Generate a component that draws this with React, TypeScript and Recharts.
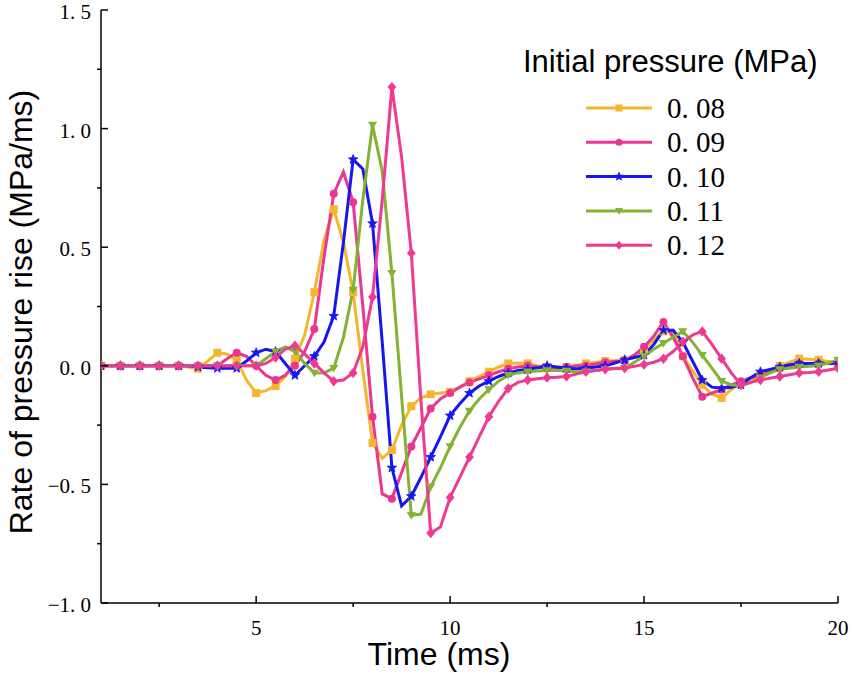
import React from 'react';
import { LineChart, Line, XAxis, YAxis, Legend, Label } from 'recharts';

const times = [
  1, 1.25, 1.5, 1.75, 2, 2.25, 2.5, 2.75, 3, 3.25, 3.5, 3.75, 4, 4.25, 4.5, 4.75,
  5, 5.25, 5.5, 5.75, 6, 6.25, 6.5, 6.75, 7, 7.25, 7.5, 7.75, 8, 8.25, 8.5, 8.75,
  9, 9.25, 9.5, 9.75, 10, 10.25, 10.5, 10.75, 11, 11.25, 11.5, 11.75, 12, 12.25, 12.5, 12.75,
  13, 13.25, 13.5, 13.75, 14, 14.25, 14.5, 14.75, 15, 15.25, 15.5, 15.75, 16, 16.25, 16.5, 16.75,
  17, 17.25, 17.5, 17.75, 18, 18.25, 18.5, 18.75, 19, 19.25, 19.5, 19.75, 20,
];

const p08 = [
  0, 0, 0, 0,
  0, 0, 0, 0,
  0, -0.005, -0.012, 0.02,
  0.055, 0.05, 0.025, -0.06,
  -0.115, -0.105, -0.085, -0.045,
  0.03, 0.13, 0.31, 0.53,
  0.66, 0.52, 0.31, -0.02,
  -0.325, -0.39, -0.355, -0.25,
  -0.17, -0.135, -0.12, -0.115,
  -0.11, -0.09, -0.065, -0.045,
  -0.025, -0.005, 0.01, 0.012,
  0.01, 0.0, -0.005, -0.005,
  -0.005, 0.0, 0.01, 0.015,
  0.02, 0.022, 0.025, 0.045,
  0.07, 0.11, 0.145, 0.145,
  0.04, -0.02, -0.08, -0.12,
  -0.135, -0.1, -0.07, -0.055,
  -0.04, -0.02, 0.0, 0.015,
  0.03, 0.028, 0.025, 0.018,
  0.01,
];

const p09 = [
  0, 0, 0, 0,
  0, 0, 0, 0,
  0, 0, 0, 0,
  0, 0.03, 0.055, 0.04,
  0, -0.04, -0.06, -0.04,
  0, 0.06, 0.155, 0.46,
  0.725, 0.817, 0.69, 0.25,
  -0.215, -0.54, -0.56, -0.45,
  -0.34, -0.26, -0.18, -0.14,
  -0.115, -0.09, -0.07, -0.055,
  -0.04, -0.025, -0.012, -0.005,
  0, -0.005, -0.01, -0.01,
  -0.005, 0, 0, 0.008,
  0.015, 0.018, 0.02, 0.045,
  0.08, 0.125, 0.185, 0.12,
  0.04, -0.05, -0.13, -0.115,
  -0.1, -0.08, -0.065, -0.05,
  -0.04, -0.025, -0.01, 0,
  0.01, 0.01, 0.01, 0.01,
  0.01,
];

const p10 = [
  0, 0, 0, 0,
  0, 0, 0, 0,
  0, 0, -0.005, -0.008,
  -0.01, -0.01, -0.01, 0.02,
  0.055, 0.07, 0.06, 0.01,
  -0.04, 0.0, 0.04, 0.1,
  0.21, 0.52, 0.87, 0.83,
  0.6, 0.1, -0.43, -0.59,
  -0.55, -0.47, -0.385, -0.3,
  -0.21, -0.16, -0.115, -0.085,
  -0.065, -0.045, -0.03, -0.02,
  -0.015, -0.008, 0, -0.005,
  -0.01, -0.012, -0.01, -0.005,
  0, 0.012, 0.025, 0.035,
  0.045, 0.09, 0.15, 0.15,
  0.1, 0.02, -0.06, -0.09,
  -0.095, -0.09, -0.08, -0.05,
  -0.025, -0.015, -0.005, 0.005,
  0.01, 0.01, 0.01, 0.01,
  0.01,
];

const p11 = [
  0, 0, 0, 0,
  0, 0, 0, 0,
  0, 0, 0, 0,
  0, 0, 0, 0,
  0, 0.03, 0.06, 0.08,
  0.06, 0.01, -0.03, -0.03,
  -0.01, 0.12, 0.32, 0.7,
  1.015, 0.82, 0.39, -0.13,
  -0.63, -0.625, -0.51, -0.43,
  -0.34, -0.26, -0.19, -0.14,
  -0.1, -0.065, -0.04, -0.03,
  -0.025, -0.022, -0.02, -0.02,
  -0.022, -0.025, -0.025, -0.02,
  -0.015, -0.012, -0.01, 0.015,
  0.04, 0.07, 0.095, 0.12,
  0.145, 0.1, 0.045, -0.01,
  -0.065, -0.08, -0.085, -0.07,
  -0.05, -0.03, -0.015, -0.01,
  -0.005, -0.002, 0, 0.012,
  0.025,
];

const p12 = [
  0, 0, 0, 0,
  0, 0, 0, 0,
  0, 0, 0, 0,
  0, 0, 0, 0,
  0, 0.01, 0.035, 0.07,
  0.085, 0.05, 0.01, -0.03,
  -0.065, -0.06, -0.03, 0.08,
  0.29, 0.7, 1.175, 0.88,
  0.475, -0.15, -0.705, -0.68,
  -0.555, -0.47, -0.385, -0.3,
  -0.215, -0.15, -0.095, -0.07,
  -0.06, -0.055, -0.05, -0.048,
  -0.045, -0.035, -0.025, -0.02,
  -0.015, -0.01, -0.01, -0.002,
  0.005, 0.015, 0.03, 0.06,
  0.1, 0.13, 0.145, 0.09,
  0.03, -0.03, -0.08, -0.07,
  -0.06, -0.052, -0.045, -0.038,
  -0.03, -0.028, -0.025, -0.018,
  -0.01,
];

const seriesNames = ['0. 08', '0. 09', '0. 10', '0. 11', '0. 12'];
const seriesKeys = ['p08', 'p09', 'p10', 'p11', 'p12'];
const seriesColors = ['#F3B62C', '#EC3590', '#1616F0', '#83B234', '#EE3A91'];
const seriesShapes = ['square', 'circle', 'star', 'tri', 'diamond'];
const xTicks = [2.5, 5, 7.5, 10, 12.5, 15, 17.5, 20];
const yTicks = [-1, -0.75, -0.5, -0.25, 0, 0.25, 0.5, 0.75, 1, 1.25, 1.5];
const legendTitle = 'Initial pressure (MPa)';
const xTitle = 'Time (ms)';
const yTitle = 'Rate of pressure rise (MPa/ms)';

const seriesValues = [p08, p09, p10, p11, p12];
const data = times.map((t, i) => {
  const row: any = { t };
  seriesKeys.forEach((k, j) => {
    row[k] = seriesValues[j][i];
  });
  return row;
});

const SERIF = '"Liberation Serif", "Times New Roman", "DejaVu Serif", serif';
const SANS = '"Liberation Sans", Arial, "DejaVu Sans", sans-serif';

function Marker({ shape, x, y, color, size }: any) {
  const s = size / 2;
  switch (shape) {
    case 'square':
      return <rect x={x - s} y={y - s} width={size} height={size} fill={color} />;
    case 'circle':
      return <circle cx={x} cy={y} r={s} fill={color} />;
    case 'star': {
      const pts: string[] = [];
      const R = s * 1.25;
      const r = R * 0.42;
      for (let k = 0; k < 10; k++) {
        const a = -Math.PI / 2 + (k * Math.PI) / 5;
        const rr = k % 2 === 0 ? R : r;
        pts.push(`${x + rr * Math.cos(a)},${y + rr * Math.sin(a)}`);
      }
      return <polygon points={pts.join(' ')} fill={color} stroke={color} strokeWidth={0.8} />;
    }
    case 'tri':
      return (
        <polygon
          points={`${x - s * 1.15},${y - s * 0.8} ${x + s * 1.15},${y - s * 0.8} ${x},${y + s * 1.1}`}
          fill={color}
        />
      );
    case 'diamond':
      return (
        <polygon
          points={`${x},${y - s * 1.3} ${x + s * 1.1},${y} ${x},${y + s * 1.3} ${x - s * 1.1},${y}`}
          fill={color}
        />
      );
    default:
      return null;
  }
}

function makeDot(shape: string, color: string) {
  return (props: any) => {
    const { cx, cy, index } = props;
    if (index % 2 !== 0 || cx == null || cy == null) return <g key={`d${index}`} />;
    return (
      <g key={`d${index}`}>
        <Marker shape={shape} x={cx} y={cy} color={color} size={8} />
      </g>
    );
  };
}

const XTick = (props: any) => {
  const { x, y, payload } = props;
  const v = payload.value;
  const major = v % 5 === 0;
  return (
    <g>
      {major ? (
        <line x1={x} y1={y} x2={x} y2={y - 7} stroke="#000" strokeWidth={1.5} />
      ) : (
        <line x1={x} y1={y} x2={x} y2={y + 4} stroke="#000" strokeWidth={1.5} />
      )}
      {major && (
        <text x={x} y={y + 32} textAnchor="middle" fontFamily={SERIF} fontSize={21} fill="#000">
          {String(v)}
        </text>
      )}
    </g>
  );
};

function fmtY(v: number) {
  const s = Math.abs(v).toFixed(1).replace('.', '. ');
  return v < 0 ? '\u2212' + s : s;
}

const YTick = (props: any) => {
  const { x, y, payload } = props;
  const v = payload.value;
  const major = Math.abs((v * 2) - Math.round(v * 2)) < 1e-6;
  return (
    <g>
      {major ? (
        <line x1={x} y1={y} x2={x + 7} y2={y} stroke="#000" strokeWidth={1.5} />
      ) : (
        <line x1={x - 4} y1={y} x2={x} y2={y} stroke="#000" strokeWidth={1.5} />
      )}
      {major && (
        <text x={x - 10} y={y + 9} textAnchor="end" fontFamily={SERIF} fontSize={21} fill="#000">
          {fmtY(v)}
        </text>
      )}
    </g>
  );
};

const XLabel = () => (
  <text x={439} y={665} textAnchor="middle" fontFamily={SANS} fontSize={32} fill="#000">
    {xTitle}
  </text>
);

const YLabel = () => (
  <text
    x={32}
    y={312}
    transform="rotate(-90, 32, 312)"
    textAnchor="middle"
    fontFamily={SANS}
    fontSize={32}
    fill="#000"
  >
    {yTitle}
  </text>
);

const LegendContent = () => (
  <svg width={852} height={676} style={{ position: 'absolute', left: 0, top: 0 }}>
    <text x={523} y={72} fontFamily={SANS} fontSize={31} fill="#000">
      {legendTitle}
    </text>
    {seriesNames.map((name, i) => {
      const y = 108 + i * 34.3;
      return (
        <g key={name}>
          <line x1={586} y1={y} x2={652} y2={y} stroke={seriesColors[i]} strokeWidth={3} />
          <Marker shape={seriesShapes[i]} x={619} y={y} color={seriesColors[i]} size={7} />
          <text x={667} y={y + 10} fontFamily={SERIF} fontSize={29} fill="#000">
            {name}
          </text>
        </g>
      );
    })}
  </svg>
);

export default function App() {
  return (
    <div style={{ position: 'absolute', left: 0, top: 0, width: 852, height: 676, background: '#fff' }}>
      <LineChart width={852} height={676} data={data} margin={{ top: 10, right: 14, left: 41, bottom: 43 }}>
        <XAxis
          dataKey="t"
          type="number"
          domain={[1, 20]}
          ticks={xTicks}
          interval={0}
          tickSize={0}
          tickMargin={0}
          tickLine={false}
          axisLine={{ stroke: '#000', strokeWidth: 1.5 }}
          tick={<XTick />}
          height={30}
          allowDataOverflow
        >
          <Label content={XLabel} />
        </XAxis>
        <YAxis
          type="number"
          domain={[-1, 1.5]}
          ticks={yTicks}
          interval={0}
          tickSize={0}
          tickMargin={0}
          tickLine={false}
          axisLine={{ stroke: '#000', strokeWidth: 1.5 }}
          tick={<YTick />}
          width={60}
          allowDataOverflow
        >
          <Label content={YLabel} />
        </YAxis>
        {seriesKeys.map((k, i) => (
          <Line
            key={k}
            dataKey={k}
            name={seriesNames[i]}
            type="linear"
            stroke={seriesColors[i]}
            strokeWidth={3}
            dot={makeDot(seriesShapes[i], seriesColors[i])}
            activeDot={false}
            isAnimationActive={false}
          />
        ))}
        <Legend
          content={LegendContent}
          layout="horizontal"
          verticalAlign="middle"
          align="center"
          wrapperStyle={{ position: 'absolute', left: 0, top: 0, width: 852, height: 676, pointerEvents: 'none' }}
        />
      </LineChart>
    </div>
  );
}
